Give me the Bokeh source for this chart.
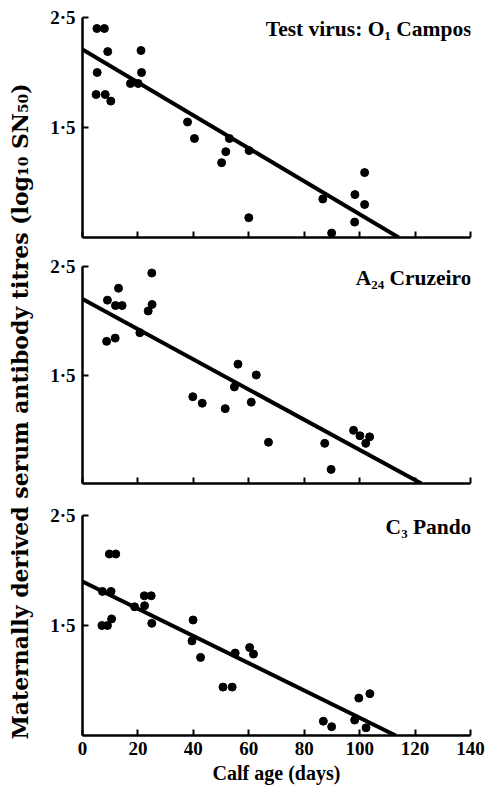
from bokeh.plotting import figure
from bokeh.layouts import column, row
from bokeh.models import Range1d, FixedTicker, CustomJSTickFormatter, Label
from bokeh.embed import file_html
from bokeh.resources import INLINE

# ---- data (calf age in days, log10 SN50 titres) ----
x_ticks = [0, 20, 40, 60, 80, 100, 120, 140]
y_ticks = [1.5, 2.5]

o1_age = [5.2, 7.9, 9.1, 5.3, 4.9, 8.2, 10.2, 17.3, 20.1, 21.1, 21.3, 37.9,
          40.4, 50.2, 51.7, 53.0, 60.0, 60.1, 86.7, 89.9, 98.3, 98.2, 101.8, 101.8]
o1_titre = [2.40, 2.40, 2.19, 2.00, 1.80, 1.80, 1.74, 1.90, 1.90, 2.20, 2.00, 1.55,
            1.40, 1.18, 1.28, 1.40, 0.68, 1.29, 0.85, 0.54, 0.89, 0.64, 1.09, 0.80]
o1_fit_x = [0, 114.1]
o1_fit_y = [2.21, 0.5]

a24_age = [9.0, 13.0, 11.9, 14.3, 8.7, 11.8, 20.7, 25.0, 23.7, 25.1, 39.8, 43.2,
           51.5, 54.8, 56.1, 60.9, 62.7, 67.1, 87.4, 89.7, 97.8, 100.1, 102.2, 103.6]
a24_titre = [2.19, 2.30, 2.14, 2.14, 1.81, 1.84, 1.89, 2.44, 2.09, 2.15, 1.30, 1.24,
             1.19, 1.39, 1.60, 1.25, 1.50, 0.88, 0.87, 0.63, 0.99, 0.94, 0.87, 0.93]
a24_fit_x = [0, 122.3]
a24_fit_y = [2.20, 0.5]

c3_age = [9.7, 12.0, 7.2, 10.3, 7.0, 9.0, 10.5, 18.8, 22.3, 24.8, 22.4, 25.0, 39.9,
          39.5, 42.6, 50.7, 54.0, 55.1, 60.3, 61.7, 86.9, 89.9, 98.2, 99.7, 103.7, 102.3]
c3_titre = [2.15, 2.15, 1.81, 1.81, 1.50, 1.50, 1.56, 1.67, 1.77, 1.77, 1.68, 1.52, 1.55,
            1.36, 1.21, 0.94, 0.94, 1.25, 1.30, 1.24, 0.63, 0.58, 0.64, 0.84, 0.88, 0.57]
c3_fit_x = [0, 113.0]
c3_fit_y = [1.90, 0.5]

titles = ["Test virus: O\u2081 Campos", "A\u2082\u2084 Cruzeiro", "C\u2083 Pando"]
y_label = "Maternally derived serum antibody titres (log\u2081\u2080 SN\u2085\u2080)"
x_label = "Calf age (days)"

SERIF = "Liberation Serif"
LAB_W = 34
FIG_W = 456


def panel(height, top, bottom, left, right, ages, titres, fx, fy, title, labels):
    p = figure(width=FIG_W, height=height, x_range=Range1d(0, 140), y_range=Range1d(0.5, 2.5),
               output_backend="svg", toolbar_location=None,
               min_border_top=top, min_border_bottom=bottom,
               min_border_left=left, min_border_right=right)
    p.outline_line_color = None
    p.grid.visible = False
    p.background_fill_color = "white"
    p.border_fill_color = "white"

    xa = p.xaxis[0]
    xa.ticker = FixedTicker(ticks=x_ticks)
    xa.minor_tick_line_color = None
    xa.major_tick_in = 6
    xa.major_tick_out = 0
    xa.axis_line_width = 2.5
    xa.major_tick_line_width = 2
    xa.axis_line_color = "black"
    xa.major_tick_line_color = "black"
    if labels:
        xa.major_label_text_font = SERIF
        xa.major_label_text_font_style = "bold"
        xa.major_label_text_font_size = "19px"
        xa.major_label_text_color = "black"
        xa.major_label_standoff = 6
        xa.axis_label = x_label
        xa.axis_label_text_font = SERIF
        xa.axis_label_text_font_style = "bold"
        xa.axis_label_text_font_size = "20px"
        xa.axis_label_text_color = "black"
        xa.axis_label_standoff = 4
    else:
        xa.formatter = CustomJSTickFormatter(code="return '';")
        xa.major_label_text_font_size = "1px"

    ya = p.yaxis[0]
    ya.ticker = FixedTicker(ticks=y_ticks)
    ya.formatter = CustomJSTickFormatter(code="return tick.toFixed(1).replace('.', '\u00b7');")
    ya.minor_tick_line_color = None
    ya.major_tick_in = 6
    ya.major_tick_out = 0
    ya.axis_line_width = 2.5
    ya.major_tick_line_width = 2
    ya.axis_line_color = "black"
    ya.major_tick_line_color = "black"
    ya.major_label_text_font = SERIF
    ya.major_label_text_font_style = "bold"
    ya.major_label_text_font_size = "19px"
    ya.major_label_text_color = "black"
    ya.major_label_standoff = 7

    p.line(fx, fy, line_color="black", line_width=4)
    p.scatter(ages, titres, size=8, fill_color="black", line_color="black")

    p.add_layout(Label(x=140, y=2.5, text=title, text_align="right", text_baseline="top",
                       x_offset=1, y_offset=1, text_font=SERIF, text_font_style="bold",
                       text_font_size="21.5px", text_color="black"))
    return p


p1 = panel(251, 17, 14, 48, 14, o1_age, o1_titre, o1_fit_x, o1_fit_y, titles[0], False)
p2 = panel(248, 15, 16, 44, 20, a24_age, a24_titre, a24_fit_x, a24_fit_y, titles[1], False)
p3 = panel(292, 16, 56, 48, 14, c3_age, c3_titre, c3_fit_x, c3_fit_y, titles[2], True)

# narrow figure whose (otherwise empty) y axis carries the shared axis title
lab = figure(width=LAB_W, height=791, x_range=Range1d(0, 1), y_range=Range1d(0, 1),
             output_backend="svg", toolbar_location=None, x_axis_type=None,
             min_border_left=LAB_W - 1, min_border_right=0,
             min_border_top=31, min_border_bottom=0)
lab.outline_line_color = None
lab.grid.visible = False
la = lab.yaxis[0]
la.ticker = FixedTicker(ticks=[])
la.axis_line_color = None
la.major_tick_line_color = None
la.minor_tick_line_color = None
la.major_label_text_font_size = "1px"
la.axis_label = y_label
la.axis_label_text_font = "DejaVu Serif"
la.axis_label_text_font_style = "bold"
la.axis_label_text_font_size = "22px"
la.axis_label_text_color = "black"
la.axis_label_standoff = 1

layout = row(lab, column(p1, p2, p3, spacing=0), spacing=0)

open("out.html", "w").write(file_html(layout, INLINE))
